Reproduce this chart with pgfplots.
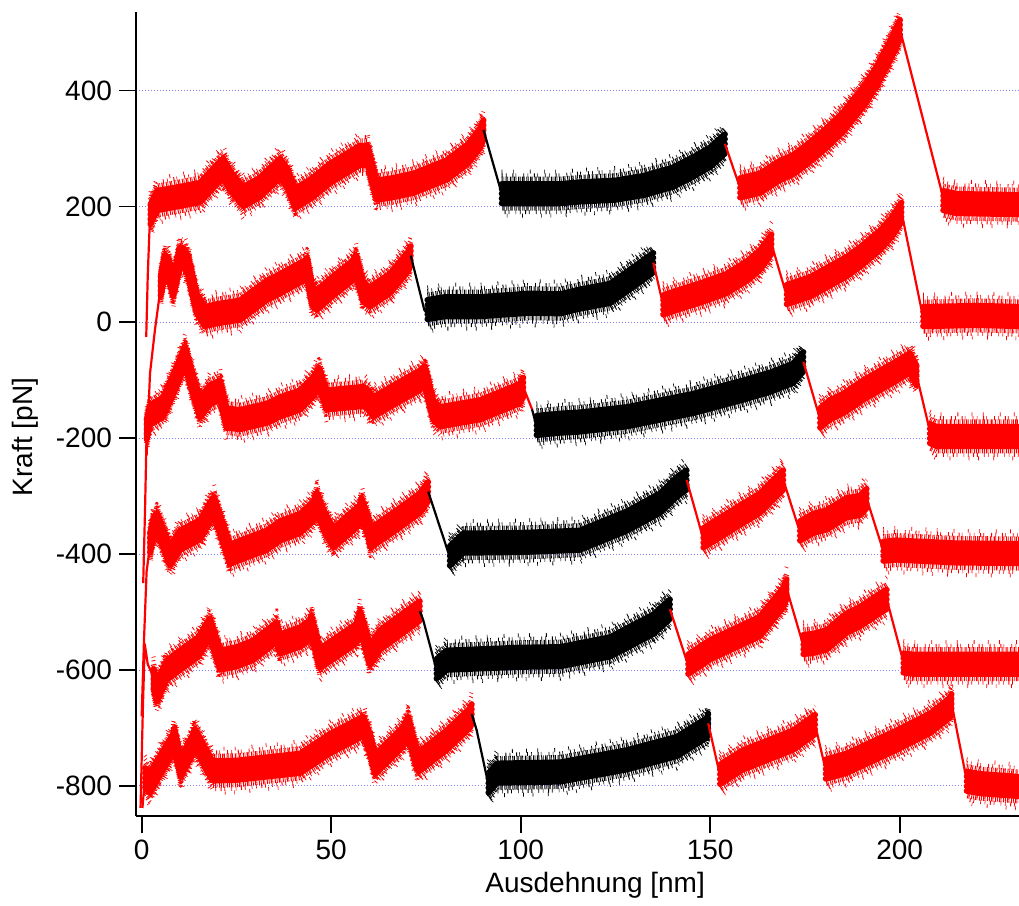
\documentclass[border=0pt]{standalone}
\usepackage{fontspec}
\setmainfont{Liberation Sans}
\usepackage{pgfplots}
\pgfplotsset{compat=1.18}
\definecolor{gridblue}{rgb}{0.5,0.5,1}
\pgfplotsset{
 band/.style={line width=3pt, line join=round, line cap=round,
   preaction={draw, line width=2.6pt, line cap=butt, dash pattern=on 0.5pt off 0.4pt on 0.3pt off 0.7pt on 0.6pt off 0.3pt on 0.4pt off 0.9pt, transform canvas={yshift=7.2pt}},
   preaction={draw, line width=2.6pt, line cap=butt, dash pattern=on 0.4pt off 0.6pt on 0.6pt off 0.3pt on 0.3pt off 0.8pt on 0.5pt off 0.5pt, dash phase=0.7pt, transform canvas={yshift=-7.2pt}},
   preaction={draw, line width=2pt, line cap=butt, dash pattern=on 0.4pt off 1.7pt on 0.3pt off 2.9pt on 0.5pt off 1.1pt on 0.3pt off 3.6pt, transform canvas={yshift=9.2pt}},
   preaction={draw, line width=2pt, line cap=butt, dash pattern=on 0.3pt off 2.3pt on 0.5pt off 1.4pt on 0.4pt off 3.1pt on 0.3pt off 1.9pt, dash phase=1.1pt, transform canvas={yshift=-9.2pt}},
   preaction={draw, line width=2pt, line cap=butt, dash pattern=on 0.35pt off 5.3pt on 0.3pt off 8.1pt on 0.4pt off 6.7pt, transform canvas={yshift=11pt}},
   preaction={draw, line width=2pt, line cap=butt, dash pattern=on 0.35pt off 4.4pt on 0.3pt off 7.3pt on 0.4pt off 9.1pt, dash phase=2.2pt, transform canvas={yshift=-11pt}},
   postaction={draw, transform canvas={yshift=2.4pt}},
   postaction={draw, transform canvas={yshift=-2.4pt}},
   postaction={draw, transform canvas={yshift=4.8pt}},
   postaction={draw, transform canvas={yshift=-4.8pt}}},
 drop/.style={line width=1.1pt, line join=round}
}
\begin{document}
\begin{tikzpicture}
\begin{axis}[
  name=ax,
  scale only axis, width=441.5pt, height=402pt,
  xmin=-1.5, xmax=231.5, ymin=-851.4, ymax=536,
  axis x line*=bottom, axis y line*=left,
  axis line style={line width=0.9pt, -},
  xtick={0,50,100,150,200}, xticklabels={0,50,100,150,200},
  ytick={-800,-600,-400,-200,0,200,400}, yticklabels={-800,-600,-400,-200,0,200,400},
  tick align=outside, major tick length=8.5pt,
  tick style={line width=0.9pt, black},
  minor tick num=0,
  ymajorgrids,
  grid style={gridblue, line width=0.5pt, dash pattern=on 0.6pt off 0.9pt},
  ticklabel style={font=\fontsize{14}{16}\selectfont},
  xlabel={Ausdehnung [nm]}, ylabel={Kraft [pN]},
  every axis x label/.style={at={(axis description cs:0.52,0)}, anchor=center, yshift=-35pt, font=\fontsize{14}{16}\selectfont},
  every axis y label/.style={at={(axis description cs:0,0.471)}, anchor=center, xshift=-55.5pt, rotate=90, font=\fontsize{14}{16}\selectfont},
]
% ---- trace 1 (offset 200)
\addplot[red, drop] coordinates {(1.2,-25) (1.6,80) (2.0,150) (2.3,188)};
\addplot[red, band] coordinates {(2.3,186) (4.0,210) (9.0,216) (15.4,224) (20.5,260) (21.5,266) (23.5,243) (26.8,217) (31.0,232) (36.5,266) (38.5,248) (40.5,214) (45.0,232) (49.7,257) (57.6,288) (59.6,288) (62.0,228) (66.0,232) (71.7,240) (80.5,263) (86.0,290) (89.3,318) (90.2,332)};
\addplot[black, drop] coordinates {(90.2,332) (95.0,222)};
\addplot[black, band] coordinates {(95.0,222) (98.0,222) (110.4,222) (115.7,225) (125.0,228) (132.3,236) (140.0,250) (145.5,268) (150.0,285) (153.9,308)};
\addplot[red, drop] coordinates {(153.9,308) (157.9,232)};
\addplot[red, band] coordinates {(157.9,232) (163.1,240) (168.4,262) (171.9,272) (176.0,292) (180.7,318) (185.0,345) (187.8,368) (190.4,389) (194.0,425) (197.4,468) (200.1,505)};
\addplot[red, drop] coordinates {(200.1,505) (211.5,215)};
\addplot[red, band] coordinates {(211.5,210) (215.0,205) (231.5,203)};
% ---- trace 2 (offset 0)
\addplot[red, drop] coordinates {(1.3,-230) (2.2,-88) (3.5,-13) (5.0,60)};
\addplot[red, band] coordinates {(5.0,62) (6.1,100) (7.0,95) (8.3,62) (10.1,113) (11.3,110) (12.3,96) (14.5,33) (16.7,10) (20.0,15) (25.9,21) (33.0,55) (36.6,67) (43.1,90) (43.6,95) (45.0,46) (46.2,38) (50.0,60) (55.8,90) (56.5,100) (58.5,52) (60.2,44) (65.5,67) (70.3,105) (71.0,115)};
\addplot[black, drop] coordinates {(71.0,115) (74.6,21) (75.4,15)};
\addplot[black, band] coordinates {(75.4,22) (80.0,27) (89.3,27) (102.4,33) (110.4,32) (115.6,40) (123.6,50) (130.6,82) (135.0,103)};
\addplot[red, drop] coordinates {(135.0,103) (137.6,30)};
\addplot[red, band] coordinates {(137.6,30) (141.2,38) (148.0,52) (154.4,67) (160.0,90) (163.1,107) (166.2,135)};
\addplot[red, drop] coordinates {(166.2,135) (170.2,46)};
\addplot[red, band] coordinates {(170.2,48) (176.3,61) (181.0,78) (186.0,96) (190.0,115) (194.9,142) (198.0,165) (200.5,190)};
\addplot[red, drop] coordinates {(200.5,190) (206.2,8)};
\addplot[red, band] coordinates {(206.2,10) (208.0,10) (220.0,12) (231.5,10)};
% ---- trace 3 (offset -200)
\addplot[red, drop] coordinates {(0.4,-450) (0.9,-320) (1.3,-190)};
\addplot[red, band] coordinates {(1.3,-185) (2.2,-160) (5.7,-146) (9.2,-94) (11.4,-58) (13.2,-100) (15.4,-148) (18.0,-125) (20.7,-117) (22.4,-165) (25.9,-168) (33.0,-157) (36.5,-146) (41.8,-134) (45.3,-111) (46.8,-95) (48.8,-134) (58.5,-128) (59.8,-134) (61.1,-146) (68.0,-120) (73.4,-100) (74.7,-92) (76.9,-151) (78.7,-163) (89.3,-151) (99.8,-123) (100.7,-112)};
\addplot[red, drop] coordinates {(100.7,-112) (103.0,-150)};
\addplot[black, drop] coordinates {(103.0,-150) (104.2,-180)};
\addplot[black, band] coordinates {(104.2,-178) (110.4,-174) (115.6,-172) (128.0,-163) (145.5,-140) (158.7,-117) (166.0,-103) (171.9,-88) (174.6,-68)};
\addplot[red, drop] coordinates {(174.6,-68) (179.0,-167)};
\addplot[red, band] coordinates {(179.0,-165) (181.6,-151) (185.1,-140) (190.4,-117) (199.2,-84) (202.7,-70) (204.5,-92)};
\addplot[red, drop] coordinates {(204.5,-92) (208.0,-188)};
\addplot[red, band] coordinates {(208.0,-192) (209.8,-197) (231.5,-197)};
% ---- trace 4 (offset -400)
\addplot[red, drop] coordinates {(0.0,-680) (0.6,-550) (1.3,-430) (2.2,-385)};
\addplot[red, band] coordinates {(2.2,-381) (3.1,-355) (4.0,-345) (7.5,-403) (10.1,-376) (15.4,-358) (18.0,-328) (19.1,-318) (23.3,-400) (33.0,-376) (36.5,-360) (41.8,-347) (45.3,-326) (46.2,-310) (48.4,-347) (50.6,-372) (57.6,-332) (58.0,-320) (59.8,-353) (60.4,-372) (67.3,-341) (73.4,-312) (75.6,-292)};
\addplot[black, drop] coordinates {(75.6,-292) (81.3,-405)};
\addplot[black, band] coordinates {(81.3,-403) (84.9,-381) (100.0,-380) (115.6,-376) (128.0,-343) (136.8,-312) (141.2,-284) (143.8,-272)};
\addplot[red, drop] coordinates {(143.8,-272) (148.2,-374)};
\addplot[red, band] coordinates {(148.2,-372) (154.4,-347) (163.1,-312) (169.3,-272)};
\addplot[red, drop] coordinates {(169.3,-272) (173.7,-362)};
\addplot[red, band] coordinates {(173.7,-360) (177.2,-347) (180.7,-341) (186.0,-320) (189.5,-316) (191.3,-304)};
\addplot[red, drop] coordinates {(191.3,-304) (195.7,-395)};
\addplot[red, band] coordinates {(195.7,-395) (199.2,-393) (215.0,-398) (231.5,-399)};
% ---- trace 5 (offset -600)
\addplot[red, drop] coordinates {(-0.3,-838) (0.3,-670) (0.8,-555) (1.6,-590) (3.1,-612)};
\addplot[red, band] coordinates {(3.1,-615) (4.0,-638) (6.6,-600) (10.1,-583) (15.0,-560) (18.0,-527) (20.7,-583) (25.1,-577) (29.4,-566) (35.6,-535) (36.5,-555) (41.8,-543) (44.4,-531) (44.8,-523) (46.6,-571) (47.0,-580) (56.7,-537) (57.6,-515) (59.4,-554) (60.2,-575) (62.9,-548) (73.4,-498)};
\addplot[black, drop] coordinates {(73.4,-498) (74.3,-514) (77.8,-600)};
\addplot[black, band] coordinates {(77.8,-598) (80.5,-583) (100.0,-578) (110.4,-577) (123.6,-560) (135.0,-521) (139.4,-495)};
\addplot[red, drop] coordinates {(139.4,-495) (144.2,-592)};
\addplot[red, band] coordinates {(144.2,-590) (150.0,-565) (163.1,-525) (169.3,-475) (170.2,-460)};
\addplot[red, drop] coordinates {(170.2,-460) (174.6,-558)};
\addplot[red, band] coordinates {(174.6,-556) (177.2,-554) (180.7,-548) (186.0,-519) (189.5,-508) (194.8,-485) (196.6,-478)};
\addplot[red, drop] coordinates {(196.6,-478) (201.0,-586)};
\addplot[red, band] coordinates {(201.0,-588) (203.6,-590) (231.5,-590)};
% ---- trace 6 (offset -800)
\addplot[red, drop] coordinates {(0.2,-838) (0.9,-784)};
\addplot[red, band] coordinates {(0.9,-786) (2.2,-796) (3.1,-784) (8.3,-727) (8.6,-718) (10.3,-768) (13.6,-727) (14.0,-718) (18.7,-774) (25.1,-773) (41.8,-761) (49.7,-727) (58.5,-697) (60.2,-727) (61.6,-763) (69.0,-715) (70.3,-697) (71.7,-733) (73.0,-759) (80.5,-721) (86.6,-683) (87.1,-676)};
\addplot[black, drop] coordinates {(87.1,-676) (88.4,-704) (91.5,-798)};
\addplot[black, band] coordinates {(91.5,-795) (93.7,-778) (110.4,-776) (128.0,-755) (141.2,-732) (149.1,-700) (149.5,-692)};
\addplot[red, drop] coordinates {(149.5,-692) (152.6,-782)};
\addplot[red, band] coordinates {(152.6,-780) (158.7,-755) (171.9,-721) (177.7,-694)};
\addplot[red, drop] coordinates {(177.7,-694) (180.5,-773)};
\addplot[red, band] coordinates {(180.5,-771) (186.0,-761) (199.2,-721) (208.0,-692) (213.3,-665) (213.7,-658)};
\addplot[red, drop] coordinates {(213.7,-658) (217.7,-790)};
\addplot[red, band] coordinates {(217.7,-792) (221.2,-796) (231.5,-801)};
\end{axis}
\pgfresetboundingbox
\path[use as bounding box] ([xshift=-68pt,yshift=-45.15pt]ax.south west) rectangle ([yshift=5.85pt]ax.north east);
\end{tikzpicture}
\end{document}
